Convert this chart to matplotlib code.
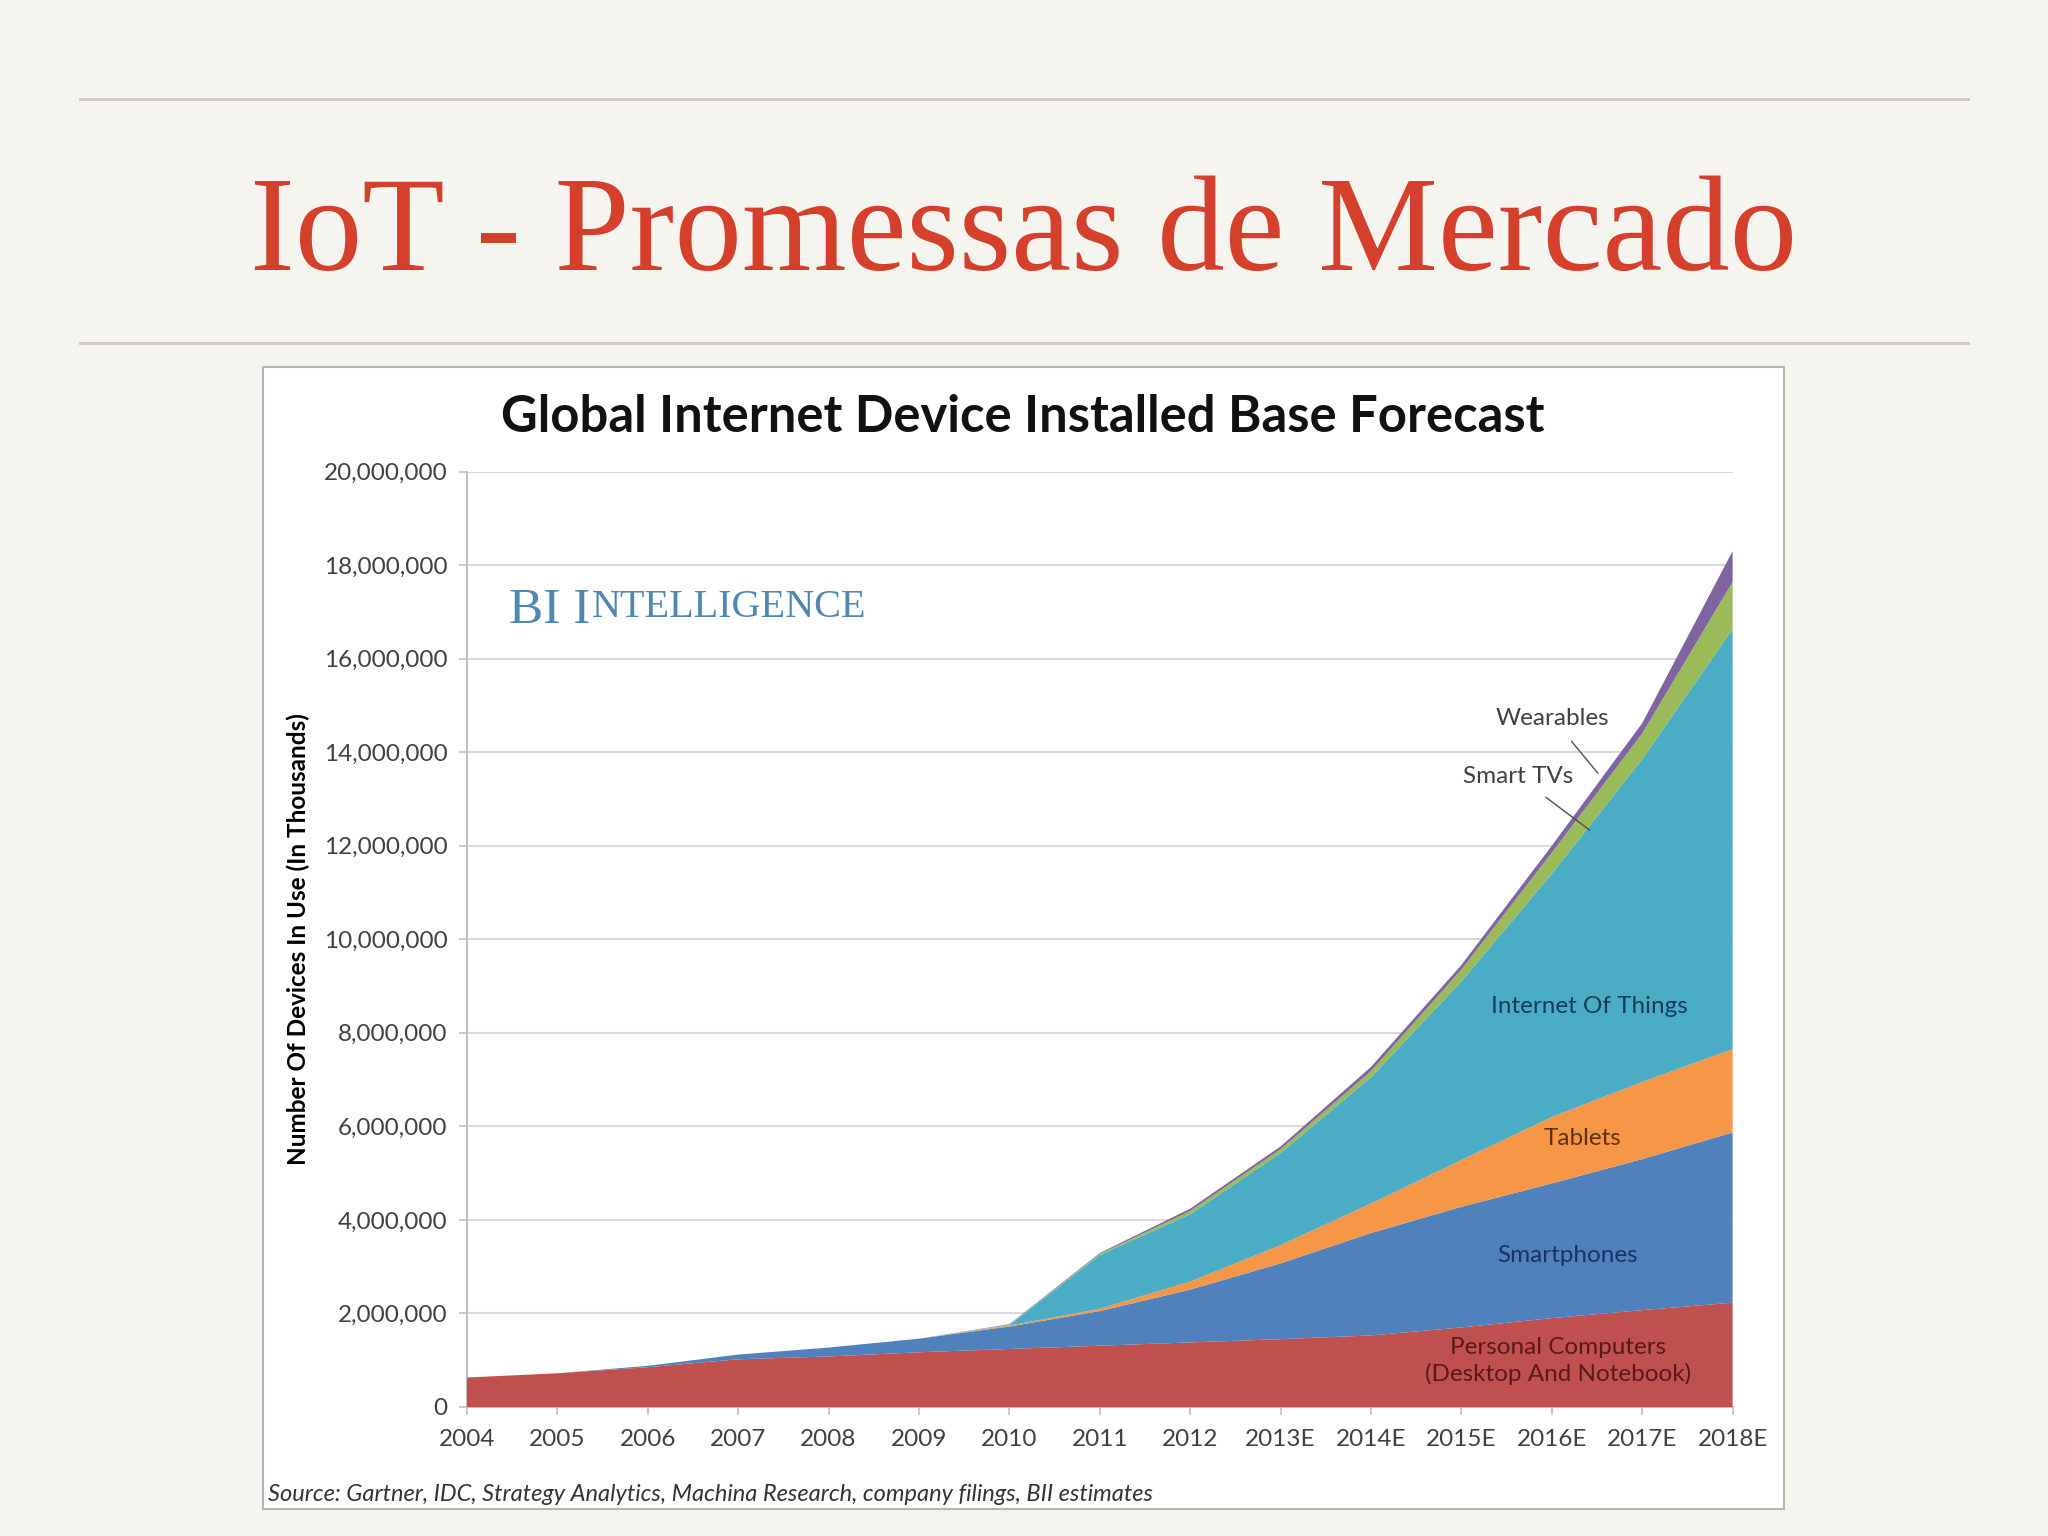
import matplotlib
matplotlib.use("Agg")
import matplotlib.pyplot as plt
from matplotlib.patches import Rectangle
from matplotlib.lines import Line2D
from matplotlib.ticker import FuncFormatter

# ---------------- data (installed base, in thousands) ----------------
years = ["2004", "2005", "2006", "2007", "2008", "2009", "2010", "2011",
         "2012", "2013E", "2014E", "2015E", "2016E", "2017E", "2018E"]
personal_computers = [630000, 720000, 850000, 1020000, 1080000, 1170000, 1240000, 1310000,
                      1380000, 1450000, 1530000, 1700000, 1900000, 2070000, 2230000]
smartphones = [0, 0, 30000, 100000, 190000, 290000, 480000, 740000,
               1130000, 1620000, 2190000, 2580000, 2880000, 3230000, 3640000]
tablets = [0, 0, 0, 0, 0, 0, 20000, 50000,
           170000, 390000, 630000, 1000000, 1420000, 1650000, 1780000]
internet_of_things = [0, 0, 0, 0, 0, 0, 10000, 1150000,
                      1440000, 1970000, 2700000, 3820000, 5200000, 6900000, 8980000]
smart_tvs = [0, 0, 0, 0, 0, 0, 10000, 20000,
             70000, 80000, 130000, 250000, 450000, 550000, 1010000]
wearables = [0, 0, 0, 0, 0, 0, 10000, 20000,
             50000, 60000, 90000, 100000, 150000, 220000, 660000]
y_ticks = [0, 2000000, 4000000, 6000000, 8000000, 10000000,
           12000000, 14000000, 16000000, 18000000, 20000000]

series_colors = ["#C0504D", "#4F81BD", "#F79646", "#4BACC6", "#9BBB59", "#8064A2"]

BG = "#F5F4EE"
fig = plt.figure(figsize=(20.48, 15.36), dpi=100, facecolor=BG)

# ---------------- slide decoration ----------------
for yy in (0.9355, 0.777):
    fig.add_artist(Line2D([0.039, 0.961], [yy, yy], transform=fig.transFigure,
                          color="#CBC9C2", lw=2))
fig.text(0.5, 0.824, "IoT - Promessas de Mercado", ha="center", va="baseline",
         fontsize=97, color="#D5402C", family="Liberation Serif")

# chart frame
fig.add_artist(Rectangle((0.1284, 0.0176), 0.871 - 0.1284, 0.761 - 0.0176,
                         transform=fig.transFigure, facecolor="white",
                         edgecolor="#B5B5B5", lw=1.5, zorder=0))

# ---------------- chart ----------------
ax = fig.add_axes([0.228, 0.0840, 0.618, 0.609])
ax.set_facecolor("white")
x = list(range(len(years)))
ax.stackplot(x, personal_computers, smartphones, tablets, internet_of_things,
             smart_tvs, wearables, colors=series_colors, linewidth=0, zorder=3)

ax.set_xlim(0, len(years) - 1)
ax.set_ylim(0, 20000000)
ax.set_yticks(y_ticks)
ax.yaxis.set_major_formatter(FuncFormatter(lambda v, p: f"{int(v):,}"))
ax.set_xticks(x)
ax.set_xticklabels(years)
ax.grid(axis="y", color="#D9D9D9", lw=1.5, zorder=0)
ax.set_axisbelow(True)
for s in ("top", "right"):
    ax.spines[s].set_visible(False)
ax.spines["left"].set_color("#BFBFBF")
ax.spines["bottom"].set_color("#BFBFBF")
ax.spines["left"].set_linewidth(1.5)
ax.spines["bottom"].set_linewidth(1.5)
ax.tick_params(axis="both", colors="#BFBFBF", labelcolor="#404040",
               labelsize=17.5, length=6, width=1.2)
ax.tick_params(axis="x", pad=10)
ax.tick_params(axis="y", pad=8)
for lab in ax.get_xticklabels() + ax.get_yticklabels():
    lab.set_family("Lato")

ax.set_ylabel("Number Of Devices In Use (In Thousands)", fontsize=17.5,
              fontweight="bold", family="Lato", color="#000000", labelpad=10)

fig.text(0.4995, 0.728, "Global Internet Device Installed Base Forecast",
         ha="center", va="center", fontsize=36.5, fontweight="bold",
         family="Lato", color="#111111")

# BI Intelligence logo (small caps)
t1 = ax.text(0.033, 0.838, "BI I", transform=ax.transAxes, fontsize=37,
             family="Liberation Serif", color="#4F88AE", va="baseline", ha="left")
ax.annotate("NTELLIGENCE", xy=(1.0, 0.0), xycoords=t1, fontsize=29,
            family="Liberation Serif", color="#4F88AE", va="bottom", ha="left",
            xytext=(1, 6), textcoords="offset points")

# series labels
lab_kw = dict(family="Lato", fontsize=17.5, ha="center", va="center", zorder=5)
ax.text(12.42, 8570000, "Internet Of Things", color="#123E5A", **lab_kw)
ax.text(12.34, 5750000, "Tablets", color="#5C3311", **lab_kw)
ax.text(12.17, 3230000, "Smartphones", color="#1B3160", **lab_kw)
ax.text(12.07, 980000, "Personal Computers\n(Desktop And Notebook)",
        color="#5A1818", linespacing=1.3, **lab_kw)
ax.annotate("Wearables", xy=(12.51, 13550000), xytext=(12.01, 14720000),
            textcoords="data", color="#404040",
            arrowprops=dict(arrowstyle="-", color="#505050", lw=1,
                            shrinkA=9, shrinkB=0), **lab_kw)
ax.annotate("Smart TVs", xy=(12.42, 12330000), xytext=(11.63, 13480000),
            textcoords="data", color="#404040",
            arrowprops=dict(arrowstyle="-", color="#505050", lw=1,
                            shrinkA=9, shrinkB=0), **lab_kw)

fig.text(0.131, 0.027,
         "Source: Gartner, IDC, Strategy Analytics, Machina Research, company filings, BII estimates",
         ha="left", va="center", fontsize=17, style="italic", family="Lato",
         color="#333333")

fig.savefig("out.png", dpi=100, facecolor=BG)
